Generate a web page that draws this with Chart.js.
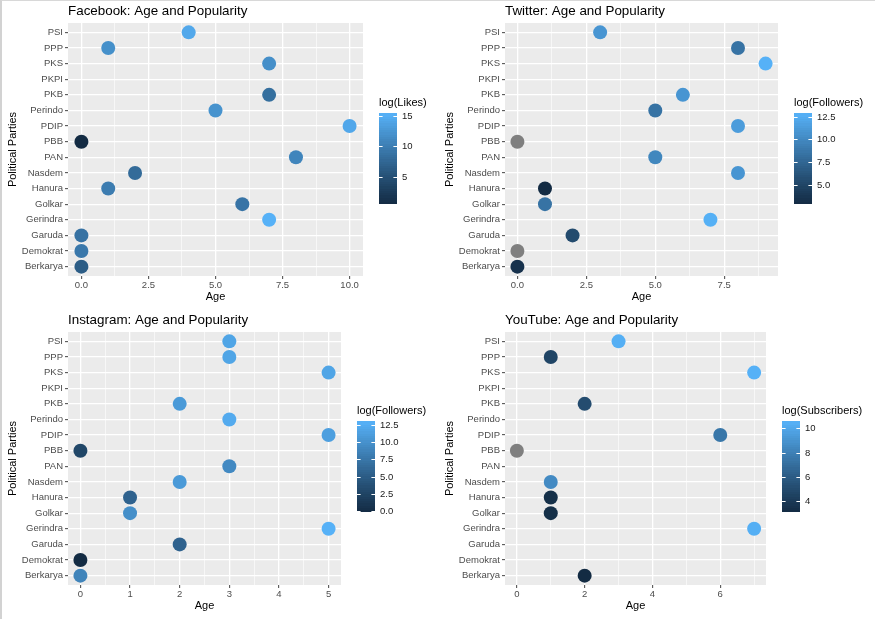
<!DOCTYPE html>
<html lang="en">
<head>
    <meta charset="UTF-8">
    <title>Political Parties: Age and Popularity</title>
    <style>
        body {
            margin: 0;
            background: #fff;
            width: 875px;
            height: 619px;
            overflow: hidden;
            position: relative;
            font-family: 'Liberation Sans', Arial, sans-serif;
        }
        .panel { position: absolute; }
        #fbChart { left: 0;     top: 0; }
        #twChart { left: 437px; top: 0; }
        #igChart { left: 0;     top: 308px; }
        #ytChart { left: 437px; top: 308px; }
        .frame {
            position: absolute;
            left: 0; top: 0;
            width: 873px; height: 618px;
            border-left: 2px solid #d2d2d2;
            border-top: 1px solid #d8d8d8;
            pointer-events: none;
        }
    </style>
    <script src="https://cdn.jsdelivr.net/npm/chart.js"></script>
</head>
<body>
    <canvas class="panel" id="fbChart" width="437" height="308"></canvas>
    <canvas class="panel" id="twChart" width="438" height="308"></canvas>
    <canvas class="panel" id="igChart" width="437" height="311"></canvas>
    <canvas class="panel" id="ytChart" width="438" height="311"></canvas>
    <div class="frame"></div>

    <script>
        // parties, top to bottom
        const parties = ['PSI', 'PPP', 'PKS', 'PKPI', 'PKB', 'Perindo', 'PDIP', 'PBB',
                         'PAN', 'Nasdem', 'Hanura', 'Golkar', 'Gerindra', 'Garuda', 'Demokrat', 'Berkarya'];

        // account age in years (null = no account) and log of audience (null = unknown, drawn grey)
        const fbAge       = [4, 1, 7, null, 7, 5, 10, 0, 8, 2, 1, 6, 7, 0, 0, 0];
        const fbLogLikes  = [14.6, 12.1, 12.0, null, 8.6, 12.4, 14.5, 0.7, 11.0, 8.2, 10.0, 9.2, 15.5, 9.0, 9.6, 6.6];

        const twAge       = [3, 8, 9, null, 6, 5, 8, 0, 5, 8, 1, 1, 7, 2, 0, 0];
        const twLogFoll   = [11.0, 8.6, 12.9, null, 11.0, 8.6, 11.5, null, 10.0, 11.0, 3.0, 8.6, 12.8, 5.6, null, 3.6];

        const igAge       = [3, 3, 5, null, 2, 3, 5, 0, 3, 2, 1, 1, 5, 2, 0, 0];
        const igLogFoll   = [12.0, 12.0, 12.0, null, 11.0, 12.5, 11.5, 3.0, 9.5, 11.0, 5.8, 10.0, 13.1, 5.8, 0.0, 9.0];

        const ytAge       = [3, 1, 7, null, 2, null, 6, 0, null, 1, 1, 1, 7, null, null, 2];
        const ytLogSubs   = [10.5, 4.8, 10.6, null, 5.2, null, 7.6, null, null, 8.6, 3.5, 3.5, 10.5, null, null, 3.2];

        // x axis breaks
        const fbAgeTicks = [0, 2.5, 5, 7.5, 10];
        const twAgeTicks = [0, 2.5, 5, 7.5];
        const igAgeTicks = [0, 1, 2, 3, 4, 5];
        const ytAgeTicks = [0, 2, 4, 6];

        // colour bar breaks
        const fbColorTicks = [5, 10, 15];
        const twColorTicks = [5, 7.5, 10, 12.5];
        const igColorTicks = [0, 2.5, 5, 7.5, 10, 12.5];
        const ytColorTicks = [4, 6, 8, 10];

        // ggplot default gradient, interpolated in Lab space
        const LOW = '#132B43', HIGH = '#56B1F7', NA_COLOR = '#7F7F7F';
        const WHITE = [0.95047, 1, 1.08883];

        function toLin(c) { c /= 255; return c <= 0.04045 ? c / 12.92 : Math.pow((c + 0.055) / 1.055, 2.4); }
        function toSrgb(c) {
            c = c <= 0.0031308 ? 12.92 * c : 1.055 * Math.pow(c, 1 / 2.4) - 0.055;
            return Math.round(Math.max(0, Math.min(1, c)) * 255);
        }
        function fLab(t) { return t > 216 / 24389 ? Math.cbrt(t) : (24389 / 27 * t + 16) / 116; }
        function fInv(t) { return t * t * t > 216 / 24389 ? t * t * t : (116 * t - 16) / (24389 / 27); }

        function hexToLab(hex) {
            const r = toLin(parseInt(hex.slice(1, 3), 16));
            const g = toLin(parseInt(hex.slice(3, 5), 16));
            const b = toLin(parseInt(hex.slice(5, 7), 16));
            const x = (0.4124564 * r + 0.3575761 * g + 0.1804375 * b) / WHITE[0];
            const y = (0.2126729 * r + 0.7151522 * g + 0.0721750 * b) / WHITE[1];
            const z = (0.0193339 * r + 0.1191920 * g + 0.9503041 * b) / WHITE[2];
            return [116 * fLab(y) - 16, 500 * (fLab(x) - fLab(y)), 200 * (fLab(y) - fLab(z))];
        }

        function labToRgb(L, a, b) {
            const fy = (L + 16) / 116, fx = fy + a / 500, fz = fy - b / 200;
            const x = fInv(fx) * WHITE[0], y = fInv(fy) * WHITE[1], z = fInv(fz) * WHITE[2];
            const r  =  3.2404542 * x - 1.5371385 * y - 0.4985314 * z;
            const g  = -0.9692660 * x + 1.8760108 * y + 0.0415560 * z;
            const bl =  0.0556434 * x - 0.2040259 * y + 1.0572252 * z;
            return `rgb(${toSrgb(r)}, ${toSrgb(g)}, ${toSrgb(bl)})`;
        }

        const labLow = hexToLab(LOW), labHigh = hexToLab(HIGH);
        function gradientAt(t) {
            return labToRgb(...labLow.map((v, i) => v + (labHigh[i] - v) * t));
        }

        // grey panel behind the grid
        const panelBackground = {
            id: 'panelBackground',
            beforeDraw(chart) {
                const { ctx, chartArea: a } = chart;
                ctx.save();
                ctx.fillStyle = '#EBEBEB';
                ctx.fillRect(a.left, a.top, a.right - a.left, a.bottom - a.top);
                ctx.restore();
            }
        };

        // ggplot-style title above the panel, plus the colour bar legend
        const ggDecor = {
            id: 'ggDecor',
            afterDraw(chart, args, opts) {
                const { ctx, chartArea: a } = chart;
                ctx.save();

                ctx.fillStyle = '#000';
                ctx.font = "13.4px 'Liberation Sans', Arial, sans-serif";
                ctx.textBaseline = 'middle';
                ctx.textAlign = 'left';
                ctx.fillText(opts.title, a.left, opts.titleY);

                const [lo, hi] = opts.limits;
                const barX = a.right + 16, barY = 113, barW = 18, barH = 90;
                ctx.font = "11px 'Liberation Sans', Arial, sans-serif";
                ctx.fillText(opts.legendTitle, barX, barY - 10);

                const nbin = 40;
                for (let i = 0; i < nbin; i++) {
                    ctx.fillStyle = gradientAt((i + 0.5) / nbin);
                    const y1 = barY + barH - (i + 1) * barH / nbin;
                    ctx.fillRect(barX, Math.floor(y1), barW, Math.ceil(barH / nbin) + 1);
                }

                ctx.font = "9.5px 'Liberation Sans', Arial, sans-serif";
                ctx.strokeStyle = '#fff';
                ctx.lineWidth = 1;
                opts.breaks.forEach(v => {
                    const y = Math.round(barY + barH - (v - lo) / (hi - lo) * barH) + 0.5;
                    ctx.beginPath();
                    ctx.moveTo(barX, y); ctx.lineTo(barX + barW / 5, y);
                    ctx.moveTo(barX + barW, y); ctx.lineTo(barX + barW * 4 / 5, y);
                    ctx.stroke();
                    ctx.fillStyle = '#1a1a1a';
                    ctx.fillText(opts.format(v), barX + barW + 5, y);
                });
                ctx.restore();
            }
        };

        function isMajor(v, majors) {
            return majors.some(m => Math.abs(m - v) < 1e-9);
        }

        function makePanel(canvasId, cfg) {
            const ages = cfg.ages.filter(v => v !== null);
            const logs = cfg.logs.filter(v => v !== null);
            const dMin = Math.min(...ages), dMax = Math.max(...ages);
            const pad = (dMax - dMin) * 0.05;
            const xMin = dMin - pad, xMax = dMax + pad;
            const lo = Math.min(...logs), hi = Math.max(...logs);

            // minor breaks halfway between the major ones
            const majors = cfg.ageTicks;
            const step = majors[1] - majors[0];
            const minors = [];
            for (let m = majors[0] - step / 2; m <= xMax; m += step) {
                if (m >= xMin && !isMajor(m, majors)) minors.push(m);
            }
            const xBreaks = majors.concat(minors).sort((p, q) => p - q);

            const points = [], colors = [];
            cfg.ages.forEach((age, i) => {
                if (age === null) return;
                points.push({ x: age, y: i });
                const v = cfg.logs[i];
                colors.push(v === null ? NA_COLOR : gradientAt((v - lo) / (hi - lo)));
            });

            const canvas = document.getElementById(canvasId);
            const H = canvas.height;

            return new Chart(canvas, {
                type: 'scatter',
                data: {
                    datasets: [{
                        data: points,
                        backgroundColor: colors,
                        borderWidth: 0,
                        pointRadius: 7,
                        pointHoverRadius: 7
                    }]
                },
                options: {
                    responsive: false,
                    animation: false,
                    events: [],
                    layout: { padding: { left: 0, top: cfg.plotTop, right: canvas.width - cfg.plotRight, bottom: 0 } },
                    plugins: {
                        legend: { display: false },
                        tooltip: { enabled: false },
                        ggDecor: {
                            title: cfg.title,
                            titleY: cfg.titleY,
                            legendTitle: cfg.legendTitle,
                            limits: [lo, hi],
                            breaks: cfg.colorTicks,
                            format: cfg.colorFormat
                        }
                    },
                    scales: {
                        x: {
                            type: 'linear',
                            min: xMin,
                            max: xMax,
                            afterBuildTicks: s => { s.ticks = xBreaks.map(v => ({ value: v })); },
                            afterFit: s => { s.height = H - cfg.plotBottom; },
                            border: { display: false },
                            grid: {
                                color: '#fff',
                                lineWidth: c => isMajor(c.tick.value, majors) ? 1.3 : 0.6,
                                drawTicks: true,
                                tickLength: 3,
                                tickColor: c => isMajor(c.tick.value, majors) ? '#444' : 'rgba(0,0,0,0)',
                                tickWidth: 1
                            },
                            ticks: {
                                autoSkip: false,
                                maxRotation: 0,
                                padding: 1,
                                color: '#4D4D4D',
                                font: { family: "'Liberation Sans', Arial, sans-serif", size: 9.5 },
                                callback: v => isMajor(v, majors) ? cfg.ageFormat(v) : ''
                            },
                            title: {
                                display: true,
                                text: 'Age',
                                color: '#000',
                                font: { family: "'Liberation Sans', Arial, sans-serif", size: 11 },
                                padding: { top: 0, bottom: cfg.xTitlePad }
                            }
                        },
                        y: {
                            type: 'linear',
                            reverse: true,
                            min: -0.6,
                            max: parties.length - 0.4,
                            afterBuildTicks: s => { s.ticks = parties.map((p, i) => ({ value: i })); },
                            afterFit: s => { s.width = cfg.plotLeft; },
                            border: { display: false },
                            grid: {
                                color: '#fff',
                                lineWidth: 1.3,
                                drawTicks: true,
                                tickLength: 3,
                                tickColor: '#444',
                                tickWidth: 1
                            },
                            ticks: {
                                autoSkip: false,
                                padding: 2,
                                color: '#4D4D4D',
                                font: { family: "'Liberation Sans', Arial, sans-serif", size: 9.5 },
                                callback: v => parties[v]
                            },
                            title: {
                                display: true,
                                text: 'Political Parties',
                                color: '#000',
                                font: { family: "'Liberation Sans', Arial, sans-serif", size: 11 },
                                padding: { top: 6.4, bottom: 0 }
                            }
                        }
                    }
                },
                plugins: [panelBackground, ggDecor]
            });
        }

        const oneDecimal = v => v.toFixed(1);
        const plain = v => String(v);

        makePanel('fbChart', {
            title: 'Facebook: Age and Popularity', titleY: 11, legendTitle: 'log(Likes)',
            ages: fbAge, logs: fbLogLikes, ageTicks: fbAgeTicks, colorTicks: fbColorTicks,
            ageFormat: oneDecimal, colorFormat: plain,
            plotLeft: 68, plotTop: 23, plotRight: 363, plotBottom: 276, xTitlePad: 4.4
        });

        makePanel('twChart', {
            title: 'Twitter: Age and Popularity', titleY: 11, legendTitle: 'log(Followers)',
            ages: twAge, logs: twLogFoll, ageTicks: twAgeTicks, colorTicks: twColorTicks,
            ageFormat: oneDecimal, colorFormat: oneDecimal,
            plotLeft: 68, plotTop: 23, plotRight: 341, plotBottom: 276, xTitlePad: 4.4
        });

        makePanel('igChart', {
            title: 'Instagram: Age and Popularity', titleY: 12, legendTitle: 'log(Followers)',
            ages: igAge, logs: igLogFoll, ageTicks: igAgeTicks, colorTicks: igColorTicks,
            ageFormat: plain, colorFormat: oneDecimal,
            plotLeft: 68, plotTop: 24, plotRight: 341, plotBottom: 277, xTitlePad: 6.4
        });

        makePanel('ytChart', {
            title: 'YouTube: Age and Popularity', titleY: 12, legendTitle: 'log(Subscribers)',
            ages: ytAge, logs: ytLogSubs, ageTicks: ytAgeTicks, colorTicks: ytColorTicks,
            ageFormat: plain, colorFormat: plain,
            plotLeft: 68, plotTop: 24, plotRight: 329, plotBottom: 277, xTitlePad: 6.4
        });
    </script>
</body>
</html>
